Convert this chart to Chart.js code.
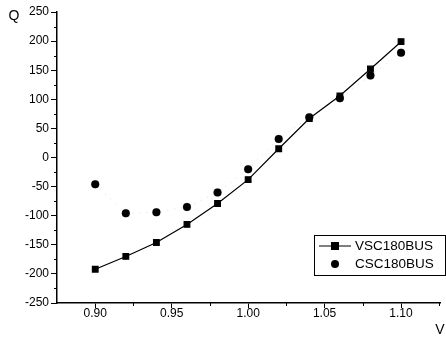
<!DOCTYPE html>
<html>
<head>
<meta charset="utf-8">
<script src="https://cdn.jsdelivr.net/npm/chart.js@4/dist/chart.umd.min.js"></script>
<style>
  html, body { margin: 0; padding: 0; background: #fff; }
  #wrap { width: 446px; height: 342px; position: relative; }
</style>
</head>
<body>
<div id="wrap"><canvas id="grafico"></canvas></div>
<script>
// valores
const voltagens = [0.90, 0.92, 0.94, 0.96, 0.98, 1.00, 1.02, 1.04, 1.06, 1.08, 1.10];
const vscQ = [-192, -170, -146, -115, -79, -38, 15, 67, 106, 152, 199];
const cscQ = [-46, -96, -94, -85, -60, -20, 32, 69, 102, 141, 180];
const xTicks = [0.875, 0.90, 0.925, 0.95, 0.975, 1.00, 1.025, 1.05, 1.075, 1.10, 1.125];
const xLabels = ["", "0.90", "", "0.95", "", "1.00", "", "1.05", "", "1.10", ""];
const yTicks = [-250, -225, -200, -175, -150, -125, -100, -75, -50, -25, 0, 25, 50, 75, 100, 125, 150, 175, 200, 225, 250];
const serieNomes = ["VSC180BUS", "CSC180BUS"];

const fonte = "'Liberation Sans', Arial, sans-serif";

const toPontos = (ys) => voltagens.map((v, i) => ({ x: v, y: ys[i] }));
const ehMaiorX = (i) => xLabels[i] !== "";
const ehMaiorY = (v) => v % 50 === 0;

// legenda, titulos dos eixos e ticks menores desenhados a mao
const extras = {
    id: "extras",
    afterDraw(chart) {
        const ctx = chart.ctx;
        const area = chart.chartArea;
        const sx = chart.scales.x, sy = chart.scales.y;
        ctx.save();
        ctx.fillStyle = "#000";
        ctx.strokeStyle = "#000";
        ctx.lineWidth = 1;

        // ticks menores
        ctx.beginPath();
        xTicks.forEach((v, i) => {
            if (ehMaiorX(i) || i === 0) return;
            const px = Math.round(sx.getPixelForValue(v)) + 0.5;
            ctx.moveTo(px, area.bottom);
            ctx.lineTo(px, area.bottom + 3);
        });
        yTicks.forEach((v) => {
            if (ehMaiorY(v)) return;
            const py = Math.round(sy.getPixelForValue(v)) + 0.5;
            ctx.moveTo(area.left - 3, py);
            ctx.lineTo(area.left, py);
        });
        ctx.stroke();

        ctx.font = "14px " + fonte;
        ctx.textAlign = "center";
        ctx.textBaseline = "middle";
        ctx.fillText("Q", 14, 16);
        ctx.fillText("V", 440, 330);

        // caixa da legenda
        ctx.strokeRect(314.5, 235.5, 131, 40);
        ctx.beginPath();
        ctx.moveTo(319, 246);
        ctx.lineTo(351, 246);
        ctx.stroke();
        ctx.fillRect(331, 242, 8, 8);
        ctx.beginPath();
        ctx.arc(335, 264, 4, 0, Math.PI * 2);
        ctx.fill();
        ctx.font = "13.5px " + fonte;
        ctx.textAlign = "left";
        ctx.fillText(serieNomes[0], 355, 246);
        ctx.fillText(serieNomes[1], 355, 264);
        ctx.restore();
    }
};

new Chart(document.getElementById("grafico").getContext("2d"), {
    type: "scatter",
    data: {
        datasets: [
            {
                label: serieNomes[0],
                data: toPontos(vscQ),
                showLine: true,
                borderColor: "#000",
                backgroundColor: "#000",
                borderWidth: 1.2,
                pointStyle: "rect",
                pointRadius: 4,
                pointHoverRadius: 4
            },
            {
                label: serieNomes[1],
                data: toPontos(cscQ),
                showLine: true,
                borderColor: "rgba(0,0,0,0.15)",
                borderDash: [1, 6],
                borderWidth: 1,
                backgroundColor: "#000",
                pointStyle: "circle",
                pointRadius: 4,
                pointHoverRadius: 4
            }
        ]
    },
    options: {
        responsive: true,
        maintainAspectRatio: false,
        animation: false,
        layout: { padding: { top: 12, right: 0, left: 0, bottom: 0 } },
        plugins: {
            legend: { display: false },
            tooltip: { enabled: false }
        },
        scales: {
            x: {
                type: "linear",
                min: 0.875,
                max: 1.126,
                afterBuildTicks: (scale) => { scale.ticks = xTicks.map(v => ({ value: v })); },
                afterFit: (scale) => { scale.height = 39; },
                ticks: {
                    autoSkip: false,
                    maxRotation: 0,
                    padding: -2,
                    color: "#000",
                    font: { family: fonte, size: 12 },
                    callback: (v, i) => xLabels[i]
                },
                grid: {
                    drawOnChartArea: false,
                    drawTicks: true,
                    tickLength: 5,
                    tickColor: (c) => (ehMaiorX(c.index) ? "#000" : "rgba(0,0,0,0)")
                },
                border: { color: "#000", width: 1.5 }
            },
            y: {
                type: "linear",
                min: -250,
                max: 250,
                afterBuildTicks: (scale) => { scale.ticks = yTicks.map(v => ({ value: v })); },
                afterFit: (scale) => { scale.width = 57; },
                ticks: {
                    autoSkip: false,
                    padding: 2,
                    color: "#000",
                    font: { family: fonte, size: 12 },
                    callback: (v) => (ehMaiorY(v) ? String(v) : "")
                },
                grid: {
                    drawOnChartArea: false,
                    drawTicks: true,
                    tickLength: 6,
                    tickColor: (c) => (c.tick && ehMaiorY(c.tick.value) ? "#000" : "rgba(0,0,0,0)")
                },
                border: { color: "#000", width: 1.5 }
            }
        }
    },
    plugins: [extras]
});
</script>
</body>
</html>
